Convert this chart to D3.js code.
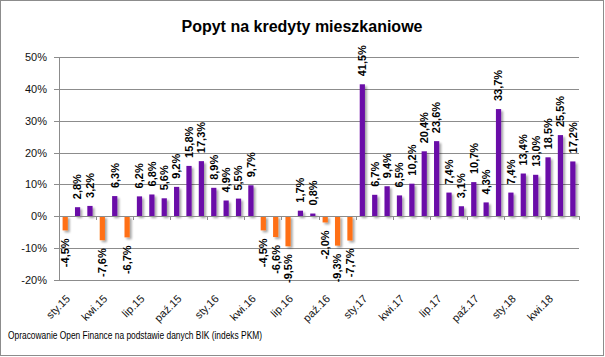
<!DOCTYPE html>
<html>
<head>
<meta charset="utf-8">
<script src="https://cdn.jsdelivr.net/npm/d3@7"></script>
<style>
  html, body { margin: 0; padding: 0; background: #fff; }
  svg { display: block; }
  text { font-family: "Liberation Sans", Arial, sans-serif; }
</style>
</head>
<body>
<svg id="chart" width="605" height="357"></svg>
<script>
const title = "Popyt na kredyty mieszkaniowe";
const source = "Opracowanie Open Finance na podstawie danych BIK (indeks PKM)";
const categories = [
  "sty.15","lut.15","mar.15","kwi.15","maj.15","cze.15","lip.15","sie.15","wrz.15","paź.15","lis.15","gru.15",
  "sty.16","lut.16","mar.16","kwi.16","maj.16","cze.16","lip.16","sie.16","wrz.16","paź.16","lis.16","gru.16",
  "sty.17","lut.17","mar.17","kwi.17","maj.17","cze.17","lip.17","sie.17","wrz.17","paź.17","lis.17","gru.17",
  "sty.18","lut.18","mar.18","kwi.18","maj.18","cze.18"
];
const values = [
  -4.5, 2.8, 3.2, -7.6, 6.3, -6.7, 6.2, 6.8, 5.6, 9.2, 15.8, 17.3,
  8.9, 4.9, 5.5, 9.7, -4.5, -6.6, -9.5, 1.7, 0.8, -2.0, -9.3, -7.7,
  41.5, 6.7, 9.4, 6.5, 10.2, 20.4, 23.6, 7.4, 3.1, 10.7, 4.3, 33.7,
  7.4, 13.4, 13.0, 18.5, 25.5, 17.2
];
const yTicks = [-20, -10, 0, 10, 20, 30, 40, 50];
const tickLabels = categories.filter((d, i) => i % 3 === 0);

const posColor = "#6A0AA8";
const negColor = "#FF7014";
const gridColor = "#8C8C8C";

const svg = d3.select("#chart");
const plot = { left: 59, right: 579, top: 57.3, bottom: 279.6 };

const x = d3.scaleBand().domain(categories).range([plot.left, plot.right])
  .paddingInner(0.58).paddingOuter(0.29);
const y = d3.scaleLinear().domain([-20, 50]).range([plot.bottom, plot.top]);

// outer border
svg.append("rect").attr("x", 0.5).attr("y", 0.5).attr("width", 603).attr("height", 355)
  .attr("fill", "#fff").attr("stroke", gridColor).attr("stroke-width", 1);

// shadow filter
const defs = svg.append("defs");
const f = defs.append("filter").attr("id", "sh").attr("x", "-50%").attr("y", "-20%").attr("width", "250%").attr("height", "140%");
f.append("feGaussianBlur").attr("in", "SourceAlpha").attr("stdDeviation", 1.2).attr("result", "b");
f.append("feOffset").attr("in", "b").attr("dx", 1.5).attr("dy", 1.5).attr("result", "o");
f.append("feComponentTransfer").attr("in", "o").attr("result", "o2")
  .append("feFuncA").attr("type", "linear").attr("slope", 0.35);
const m = f.append("feMerge");
m.append("feMergeNode").attr("in", "o2");
m.append("feMergeNode").attr("in", "SourceGraphic");

// title
svg.append("text").attr("x", 302).attr("y", 32).attr("text-anchor", "middle")
  .attr("font-size", 16).attr("font-weight", "bold").attr("fill", "#000").text(title);

// gridlines + y axis
const yAxis = d3.axisLeft(y).tickValues(yTicks).tickSize(-(plot.right - plot.left))
  .tickSizeOuter(0).tickPadding(8).tickFormat(d => d + "%");
const gy = svg.append("g").attr("transform", `translate(${plot.left},0)`).call(yAxis);
gy.select(".domain").attr("stroke", gridColor).attr("shape-rendering", "crispEdges");
gy.selectAll(".tick line").attr("stroke", gridColor).attr("x1", -5).attr("shape-rendering", "crispEdges");
gy.selectAll(".tick text").attr("font-size", 11).attr("fill", "#111")
  .attr("font-family", "Liberation Sans, Arial, sans-serif").attr("x", -12);

// bars
svg.append("g").attr("filter", "url(#sh)")
  .selectAll("rect").data(values).join("rect")
  .attr("x", (d, i) => x(categories[i]))
  .attr("width", x.bandwidth())
  .attr("y", d => y(Math.max(0, d)))
  .attr("height", d => Math.abs(y(d) - y(0)))
  .attr("fill", d => d >= 0 ? posColor : negColor);

// category axis along zero line
const step = x.step();
const tickPos = d3.range(0, categories.length + 1, 3).map(i => plot.left + i * step);
svg.append("g").selectAll("line").data(tickPos).join("line")
  .attr("x1", d => d).attr("x2", d => d)
  .attr("y1", y(0)).attr("y2", y(0) + 4)
  .attr("stroke", gridColor).attr("shape-rendering", "crispEdges");
svg.append("line").attr("x1", plot.left).attr("x2", plot.right)
  .attr("y1", y(0)).attr("y2", y(0)).attr("stroke", gridColor).attr("shape-rendering", "crispEdges");

// x tick labels (rotated)
svg.append("g").selectAll("text").data(tickLabels).join("text")
  .attr("transform", d => `translate(${x(d) + x.bandwidth() / 2 + 3},${plot.bottom + 17}) rotate(-45)`)
  .attr("text-anchor", "end").attr("dy", "0.35em")
  .attr("font-size", 11).attr("fill", "#111").text(d => d);

// data labels
const fmt = d => d.toFixed(1).replace(".", ",") + "%";
svg.append("g").selectAll("text").data(values).join("text")
  .attr("transform", (d, i) => {
    const cx = x(categories[i]) + x.bandwidth() / 2;
    const yy = d >= 0 ? y(d) - 8 : y(d) + 8;
    return `translate(${cx},${yy}) rotate(-90)`;
  })
  .attr("text-anchor", d => d >= 0 ? "start" : "end")
  .attr("dy", "0.35em")
  .attr("font-size", 11).attr("font-weight", "bold").attr("fill", "#000")
  .text(fmt);

// source
svg.append("text").attr("x", 8).attr("y", 339).attr("font-size", 10.5).attr("fill", "#000")
  .attr("textLength", 254).attr("lengthAdjust", "spacingAndGlyphs").text(source);
</script>
</body>
</html>
